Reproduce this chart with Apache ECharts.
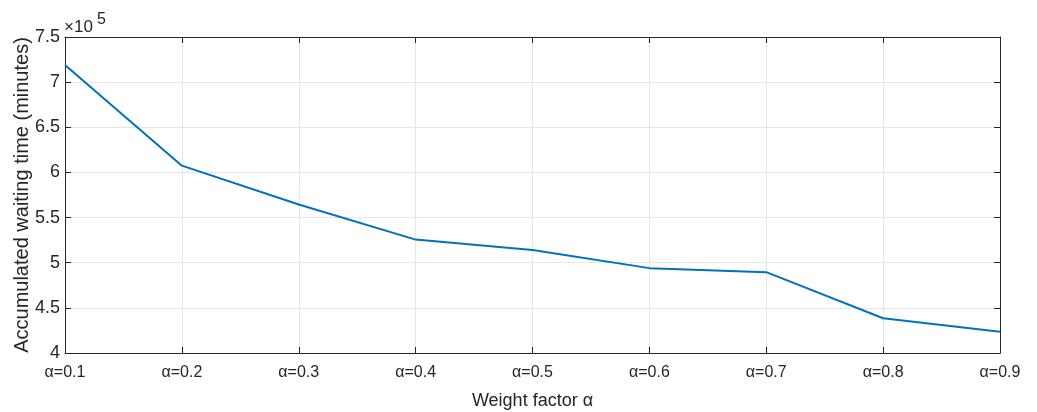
<!DOCTYPE html>
<html><head><meta charset="utf-8">
<script src="https://cdn.jsdelivr.net/npm/echarts@6/dist/echarts.min.js"></script>
<style>html,body{margin:0;padding:0;background:#fff}#c{width:1037px;height:412px}</style>
</head><body><div id="c"></div>
<script>
const categories = ['α=0.1','α=0.2','α=0.3','α=0.4','α=0.5','α=0.6','α=0.7','α=0.8','α=0.9'];
const waitingTime = [719000, 607500, 564500, 525600, 514000, 494000, 489500, 438500, 423500];
const yTicks = [400000, 450000, 500000, 550000, 600000, 650000, 700000, 750000];

const font = 'Liberation Sans, Arial, Helvetica, sans-serif';
const axisColor = '#262626';
const chart = echarts.init(document.getElementById('c'));
chart.setOption({
  animation: false,
  backgroundColor: '#fff',
  grid: {left: 65, right: 37, top: 37, bottom: 59, containLabel: false, outerBoundsMode: 'none'},
  xAxis: [{
    type: 'category', data: categories, boundaryGap: false,
    name: 'Weight factor α', nameLocation: 'middle', nameGap: 39, nameMoveOverlap: false,
    nameTextStyle: {fontFamily: font, fontSize: 18, color: axisColor},
    axisLine: {lineStyle: {color: axisColor, width: 1}},
    axisTick: {inside: true, length: 6, lineStyle: {color: axisColor}},
    axisLabel: {fontFamily: font, fontSize: 16, color: axisColor, margin: 12},
    splitLine: {show: true, lineStyle: {color: '#e6e6e6', width: 1}}
  }, {
    type: 'category', data: categories, boundaryGap: false, position: 'top',
    axisLine: {lineStyle: {color: axisColor, width: 1}},
    axisTick: {inside: true, length: 6, lineStyle: {color: axisColor}},
    axisLabel: {show: false}, splitLine: {show: false}
  }],
  yAxis: [{
    type: 'value', min: yTicks[0], max: yTicks[yTicks.length - 1], interval: 50000,
    name: 'Accumulated waiting time (minutes)', nameLocation: 'middle', nameGap: 33, nameMoveOverlap: false,
    nameTextStyle: {fontFamily: font, fontSize: 20, color: axisColor},
    axisLine: {show: true, lineStyle: {color: axisColor, width: 1}},
    axisTick: {show: true, inside: true, length: 6, lineStyle: {color: axisColor}},
    axisLabel: {fontFamily: font, fontSize: 18, color: axisColor, margin: 5,
      formatter: v => String(+(v / 1e5).toFixed(1))},
    splitLine: {show: true, lineStyle: {color: '#e6e6e6', width: 1}}
  }, {
    type: 'value', min: yTicks[0], max: yTicks[yTicks.length - 1], interval: 50000, position: 'right',
    axisLine: {show: true, lineStyle: {color: axisColor, width: 1}},
    axisTick: {show: true, inside: true, length: 6, lineStyle: {color: axisColor}},
    axisLabel: {show: false}, splitLine: {show: false}
  }],
  graphic: [
    {type: 'text', left: 64, top: 19, style: {text: '×10', fontFamily: font, fontSize: 17, fill: axisColor}},
    {type: 'text', left: 97, top: 12, style: {text: '5', fontFamily: font, fontSize: 16, fill: axisColor}}
  ],
  series: [{
    type: 'line', data: waitingTime, xAxisIndex: 0, yAxisIndex: 0,
    symbol: 'none', lineStyle: {color: '#0072BD', width: 2}, z: 5
  }]
});
</script>
</body></html>
